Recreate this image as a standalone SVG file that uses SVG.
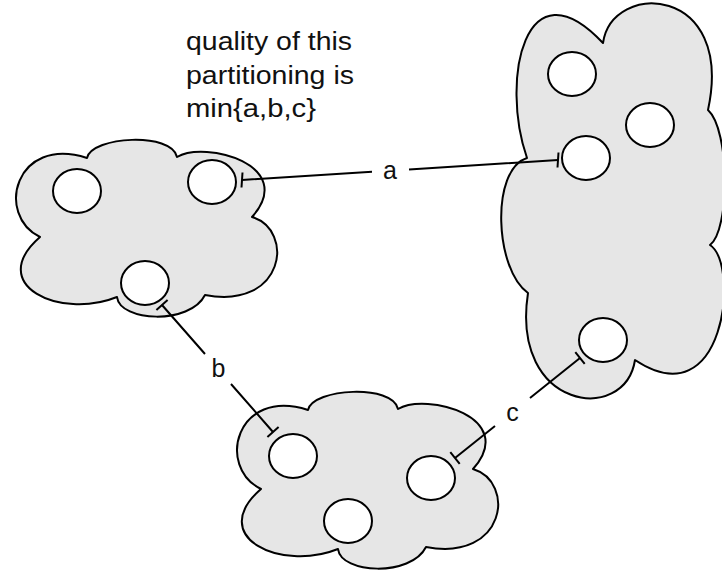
<svg xmlns="http://www.w3.org/2000/svg" width="722" height="570" viewBox="0 0 722 570">
<style>
.cloud{fill:#e6e6e6;stroke:#000;stroke-width:2;stroke-linejoin:round}
.node{fill:#fff;stroke:#000;stroke-width:2}
.conn{stroke:#000;stroke-width:2;fill:none}
.t{font-family:"Liberation Sans",Arial,Helvetica,sans-serif;fill:#111}
.title{font-size:26px}
.lbl{font-size:25px;text-anchor:middle}
</style>
<defs>
<path id="cloudA" d="M 87,158 C 92,136 172,132 177,157 C 205,140 298,165 252,217 C 295,230 285,310 205,295 C 190,325 120,322 117,297 C 60,320 -15,285 40,237 C -5,215 15,135 87,158 Z"/>
</defs>
<rect width="722" height="570" fill="#fff"/>
<g id="title">
<text class="t title" x="186" y="50" textLength="166" lengthAdjust="spacingAndGlyphs">quality of this</text>
<text class="t title" x="186" y="84" textLength="168" lengthAdjust="spacingAndGlyphs">partitioning is</text>
<text class="t title" x="186" y="117" textLength="130" lengthAdjust="spacingAndGlyphs">min{a,b,c}</text>
</g>
<g id="cloud-left">
<use href="#cloudA" class="cloud"/>
<ellipse class="node" cx="77" cy="191" rx="24" ry="22"/>
<ellipse class="node" cx="212" cy="182" rx="24" ry="22"/>
<ellipse class="node" cx="145" cy="283" rx="24" ry="22"/>
</g>
<g id="cloud-right">
<path class="cloud" d="M 603,43 C 612,-20 735,-15 708,110 C 730,130 730,230 710,245 C 740,265 725,420 635,360 C 625,425 510,410 528,293 C 495,270 490,170 527,158 C 500,80 525,-40 603,43 Z"/>
<ellipse class="node" cx="572" cy="74" rx="24" ry="22"/>
<ellipse class="node" cx="650" cy="125" rx="24" ry="22"/>
<ellipse class="node" cx="586" cy="158" rx="24" ry="22"/>
<ellipse class="node" cx="603" cy="340" rx="24" ry="22"/>
</g>
<g id="cloud-bottom">
<use href="#cloudA" class="cloud" transform="translate(221,252)"/>
<ellipse class="node" cx="293" cy="456" rx="24" ry="22"/>
<ellipse class="node" cx="431" cy="478" rx="24" ry="22"/>
<ellipse class="node" cx="348" cy="521" rx="24" ry="22"/>
</g>
<g id="connectors">
<g id="edge-a">
<path class="conn" d="M 242,180 L 372,171.8 M 409,169.5 L 558,160"/>
<path class="conn" d="M 242.5,172.5 L 241.5,187.5 M 558.5,152.5 L 557.5,167.5"/>
<text class="t lbl" x="390" y="179">a</text>
</g>
<g id="edge-b">
<path class="conn" d="M 162,305 L 205,354 M 231,384 L 273,432"/>
<path class="conn" d="M 167.6,300.1 L 156.4,309.9 M 278.6,427.1 L 267.4,436.9"/>
<text class="t lbl" x="218.5" y="377">b</text>
</g>
<g id="edge-c">
<path class="conn" d="M 580,358 L 530,398 M 495,426 L 455,458"/>
<path class="conn" d="M 584.7,363.9 L 575.3,352.1 M 459.7,463.9 L 450.3,452.1"/>
<text class="t lbl" x="512.5" y="421">c</text>
</g>
</g>
</svg>
